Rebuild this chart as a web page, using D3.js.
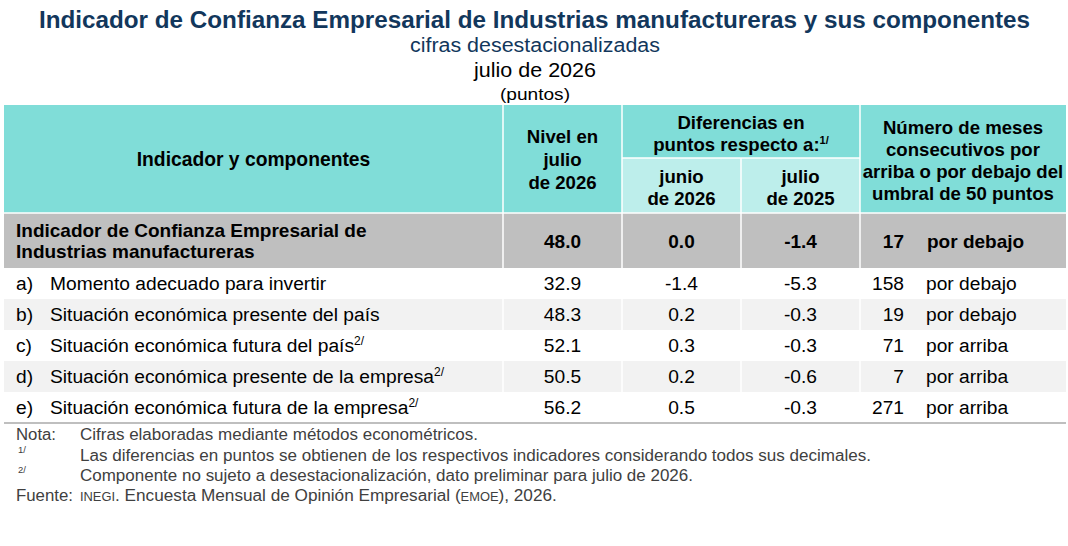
<!DOCTYPE html>
<html>
<head>
<meta charset="utf-8">
<script src="https://cdn.jsdelivr.net/npm/d3@7"></script>
<style>
  body { margin: 0; background: #fff; }
  svg { display: block; font-family: "Liberation Sans", Arial, sans-serif; }
</style>
</head>
<body>
<div id="container"></div>
<script>
/**
 * DATA
 * */
const letras = ["a)", "b)", "c)", "d)", "e)"];
const componentes = [
  "Momento adecuado para invertir",
  "Situación económica presente del país",
  "Situación económica futura del país",
  "Situación económica presente de la empresa",
  "Situación económica futura de la empresa"
];
const llamada2 = [false, false, true, true, true];
const nivel = [32.9, 48.3, 52.1, 50.5, 56.2];
const difJunio = [-1.4, 0.2, 0.3, 0.2, 0.5];
const difJulio = [-5.3, -0.3, -0.3, -0.6, -0.3];
const meses = [158, 19, 71, 7, 271];
const posicion = ["por debajo", "por debajo", "por arriba", "por arriba", "por arriba"];

// fila del indicador total
const totalNombre = ["Indicador de Confianza Empresarial de", "Industrias manufactureras"];
const totalValores = [48.0, 0.0, -1.4];
const totalMeses = 17;
const totalPosicion = "por debajo";

/**
 * CONSTANTS
 * */
const width = 1068, height = 546;
const colEdges = [4, 503, 622, 741, 860, 1066];
const headTop = 105, headMid = 158, headBottom = 213, totalBottom = 268, tableBottom = 423;

const TEAL = "#80DDD8", TEAL_LIGHT = "#BDEEEB", GRAY = "#BFBFBF", STRIPE = "#F2F2F2";

const fmt = d3.formatLocale({ decimal: ".", thousands: ",", grouping: [3], currency: ["", ""], minus: "-" }).format(".1f");

// stretch a text to the width measured on the original
function fit(sel, w) {
  return sel.attr("textLength", w).attr("lengthAdjust", "spacingAndGlyphs");
}

const svg = d3.select("#container")
  .append("svg")
  .attr("width", width)
  .attr("height", height);

svg.append("rect").attr("width", width).attr("height", height).attr("fill", "#fff");

/**
 * TITLES
 * */
fit(svg.append("text").attr("x", 534.5).attr("y", 28).attr("text-anchor", "middle")
  .attr("font-size", 23.5).attr("font-weight", "bold").attr("fill", "#12375C")
  .text("Indicador de Confianza Empresarial de Industrias manufactureras y sus componentes"), 991);
fit(svg.append("text").attr("x", 535).attr("y", 52).attr("text-anchor", "middle")
  .attr("font-size", 20).attr("fill", "#12375C").text("cifras desestacionalizadas"), 250);
fit(svg.append("text").attr("x", 535).attr("y", 77).attr("text-anchor", "middle")
  .attr("font-size", 20).attr("fill", "#000").text("julio de 2026"), 122);
fit(svg.append("text").attr("x", 535).attr("y", 100).attr("text-anchor", "middle")
  .attr("font-size", 16).attr("fill", "#000").text("(puntos)"), 70);

/**
 * SCALES
 * */
const y = d3.scaleBand()
  .domain(d3.range(componentes.length))
  .range([totalBottom, tableBottom]);

const colCenter = i => (colEdges[i] + colEdges[i + 1]) / 2;

/**
 * BACKGROUNDS
 * */
const bg = svg.append("g");
bg.append("rect").attr("x", colEdges[0]).attr("y", headTop)
  .attr("width", colEdges[5] - colEdges[0]).attr("height", headBottom - headTop).attr("fill", TEAL);
bg.append("rect").attr("x", colEdges[2]).attr("y", headMid)
  .attr("width", colEdges[4] - colEdges[2]).attr("height", headBottom - headMid).attr("fill", TEAL_LIGHT);
bg.append("rect").attr("x", colEdges[0]).attr("y", headBottom)
  .attr("width", colEdges[5] - colEdges[0]).attr("height", totalBottom - headBottom).attr("fill", GRAY);

bg.selectAll("rect.stripe")
  .data(d3.range(componentes.length))
  .join("rect")
  .attr("class", "stripe")
  .attr("x", colEdges[0])
  .attr("y", d => y(d))
  .attr("width", colEdges[5] - colEdges[0])
  .attr("height", y.bandwidth())
  .attr("fill", d => d % 2 ? STRIPE : "#fff");

// white grid lines
bg.selectAll("line.vcol")
  .data(colEdges.slice(1, 5))
  .join("line")
  .attr("class", "vcol")
  .attr("x1", d => d).attr("x2", d => d)
  .attr("y1", (d, i) => i === 2 ? headMid : headTop)
  .attr("y2", tableBottom)
  .attr("stroke", "#fff").attr("stroke-width", 1.5);
bg.append("line").attr("x1", colEdges[2]).attr("x2", colEdges[4])
  .attr("y1", headMid).attr("y2", headMid).attr("stroke", "#fff").attr("stroke-width", 1.5);
bg.append("line").attr("x1", colEdges[0]).attr("x2", colEdges[5])
  .attr("y1", headBottom).attr("y2", headBottom).attr("stroke", "#fff").attr("stroke-width", 1.5);
bg.append("line").attr("x1", colEdges[0]).attr("x2", colEdges[5])
  .attr("y1", tableBottom).attr("y2", tableBottom).attr("stroke", GRAY).attr("stroke-width", 2);

/**
 * HEADER TEXT
 * */
const head = svg.append("g").attr("font-size", 18.6).attr("font-weight", "bold").attr("fill", "#000")
  .attr("text-anchor", "middle");

function lines(g, x, baselines, texts) {
  texts.forEach((t, i) => g.append("text").attr("x", x).attr("y", baselines[i]).text(t));
}
head.append("text").attr("x", colCenter(0)).attr("y", 166).attr("font-size", 19.3).text("Indicador y componentes");
lines(head, colCenter(1), [143, 166, 189], ["Nivel en", "julio", "de 2026"]);
lines(head, (colEdges[2] + colEdges[4]) / 2, [129], ["Diferencias en"]);
const pr = head.append("text").attr("x", (colEdges[2] + colEdges[4]) / 2).attr("y", 151);
pr.append("tspan").text("puntos respecto a:");
pr.append("tspan").attr("font-size", 11).attr("dy", -7).text("1/");
lines(head, colCenter(2), [183, 205], ["junio", "de 2026"]);
lines(head, colCenter(3), [183, 205], ["julio", "de 2025"]);
lines(head, colCenter(4), [134, 156, 178, 200],
  ["Número de meses", "consecutivos por", "arriba o por debajo del", "umbral de 50 puntos"]);

/**
 * TOTAL ROW
 * */
const tot = svg.append("g").attr("font-size", 19).attr("font-weight", "bold").attr("fill", "#000");
totalNombre.forEach((t, i) => tot.append("text").attr("x", 16).attr("y", 237 + i * 21).text(t));
totalValores.forEach((v, i) => tot.append("text").attr("x", colCenter(i + 1)).attr("y", 248)
  .attr("text-anchor", "middle").text(fmt(v)));
tot.append("text").attr("x", 904).attr("y", 248).attr("text-anchor", "end").text(totalMeses);
tot.append("text").attr("x", 927).attr("y", 248).text(totalPosicion);

/**
 * COMPONENT ROWS
 * */
const rows = svg.append("g").attr("font-size", 19.2).attr("fill", "#000")
  .selectAll("g.row")
  .data(d3.range(componentes.length))
  .join("g")
  .attr("class", "row")
  .attr("transform", d => `translate(0,${y(d) + y.bandwidth() / 2 + 6.5})`);

rows.append("text").attr("x", 16).text(d => letras[d]);
const nom = rows.append("text").attr("x", 50);
nom.append("tspan").text(d => componentes[d]);
nom.append("tspan").attr("font-size", 12).attr("dy", -7).text(d => llamada2[d] ? "2/" : "");

rows.append("text").attr("x", colCenter(1)).attr("text-anchor", "middle").text(d => fmt(nivel[d]));
rows.append("text").attr("x", colCenter(2)).attr("text-anchor", "middle").text(d => fmt(difJunio[d]));
rows.append("text").attr("x", colCenter(3)).attr("text-anchor", "middle").text(d => fmt(difJulio[d]));
rows.append("text").attr("x", 904).attr("text-anchor", "end").text(d => meses[d]);
rows.append("text").attr("x", 926).text(d => posicion[d]);

/**
 * NOTES
 * */
const notes = svg.append("g").attr("font-size", 16).attr("fill", "#404040");
fit(notes.append("text").attr("x", 16).attr("y", 440).text("Nota:"), 40);
fit(notes.append("text").attr("x", 80).attr("y", 440).text("Cifras elaboradas mediante métodos econométricos."), 398);
notes.append("text").attr("x", 18).attr("y", 453).attr("font-size", 9.5).text("1/");
fit(notes.append("text").attr("x", 80).attr("y", 461)
  .text("Las diferencias en puntos se obtienen de los respectivos indicadores considerando todos sus decimales."), 791);
notes.append("text").attr("x", 18).attr("y", 473).attr("font-size", 9.5).text("2/");
fit(notes.append("text").attr("x", 80).attr("y", 481)
  .text("Componente no sujeto a desestacionalización, dato preliminar para julio de 2026."), 613);
fit(notes.append("text").attr("x", 16).attr("y", 501).text("Fuente:"), 57);

// fuente line: one text, squeezed as a whole to the measured width
const fu = notes.append("text").attr("x", 0).attr("y", 0);
fu.append("tspan").attr("font-size", 12).text("INEGI");
fu.append("tspan").text(". Encuesta Mensual de Opinión Empresarial (");
fu.append("tspan").attr("font-size", 12).text("EMOE");
fu.append("tspan").text("), 2026.");
const fuW = fu.node().getComputedTextLength();
fu.attr("transform", `translate(80,501) scale(${477 / fuW},1)`);
</script>
</body>
</html>
